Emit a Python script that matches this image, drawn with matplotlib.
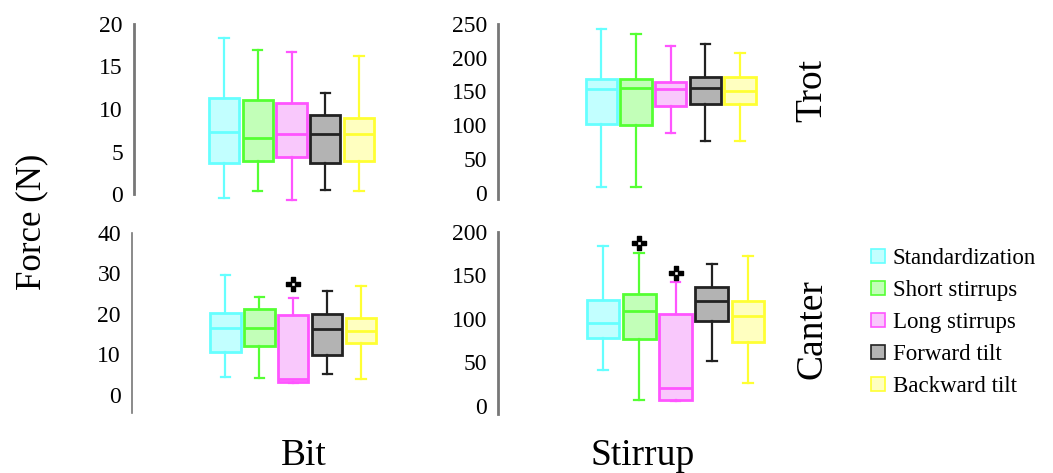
import numpy as np
import matplotlib
matplotlib.use("Agg")
import matplotlib.pyplot as plt
from matplotlib.patches import Patch

plt.rcParams['font.family'] = ['Liberation Serif', 'DejaVu Sans']

# conditions + colours
conditions = ['Standardization', 'Short stirrups', 'Long stirrups', 'Forward tilt', 'Backward tilt']
edge_cols = ['#66ffff', '#55ff33', '#ff55ff', '#222222', '#ffff33']
face_cols = ['#c2ffff', '#c2ffb8', '#f9c8fc', '#b3b3b3', '#ffffc0']

# box stats per condition: [whisker low, q1, median, q3, whisker high]
bit_trot = [[-0.5, 3.6, 7.3, 11.3, 18.4],
            [0.3, 3.85, 6.55, 11.0, 16.9],
            [-0.7, 4.3, 7.0, 10.7, 16.7],
            [0.5, 3.7, 7.1, 9.3, 11.9],
            [0.35, 3.85, 7.1, 8.9, 16.2]]
bit_trot_fliers = [[], [], [], [], []]

bit_canter = [[4.5, 10.5, 16.5, 20.25, 29.6],
              [4.25, 12.1, 16.6, 21.1, 24.25],
              [2.9, 3.2, 4.0, 19.8, 24.0],
              [5.2, 9.9, 16.3, 19.9, 25.75],
              [4.0, 12.75, 15.8, 19.1, 26.9]]
bit_canter_fliers = [[], [], [27.4], [], []]

stirrup_trot = [[8.6, 102, 154.3, 167.7, 242],
                [8.6, 100, 155, 169, 235],
                [89, 129, 152.9, 164.7, 217],
                [75.8, 131.6, 155, 171, 221],
                [76.8, 131, 150.4, 171.6, 207.7]]
stirrup_trot_fliers = [[], [], [], [], []]

stirrup_canter = [[41, 78.2, 95.8, 122, 184],
                  [6.1, 77.4, 109.2, 128.7, 175.5],
                  [6, 6.1, 21, 106, 142.5],
                  [51, 97.3, 120.7, 136.8, 163.6],
                  [25.7, 73.6, 103, 121, 172.8]]
stirrup_canter_fliers = [[], [187], [153], [], []]

bit_trot_ticks = [0, 5, 10, 15, 20]
bit_canter_ticks = [0, 10, 20, 30, 40]
stirrup_trot_ticks = [0, 50, 100, 150, 200, 250]
stirrup_canter_ticks = [0, 50, 100, 150, 200]

W, H = 1053, 473
fig = plt.figure(figsize=(W / 100, H / 100), dpi=100)


def px_axes(left, top, right, bottom):
    return fig.add_axes([left / W, 1 - bottom / H, (right - left) / W, (bottom - top) / H])


def draw_panel(ax, stats, fliers, ticks, ylim, xlim, spine_lw):
    bxp_stats = []
    for s, f in zip(stats, fliers):
        bxp_stats.append(dict(whislo=s[0], q1=s[1], med=s[2], q3=s[3], whishi=s[4], fliers=f))
    pos = np.arange(1, len(stats) + 1)
    art = ax.bxp(bxp_stats, positions=pos, widths=0.9, capwidths=0.27, patch_artist=True,
                 flierprops=dict(marker='$\u271c$', markersize=10, markerfacecolor='black',
                                 markeredgecolor='black', linestyle='none'))
    for i in range(len(stats)):
        art['boxes'][i].set_facecolor(face_cols[i])
        art['boxes'][i].set_edgecolor(edge_cols[i])
        art['boxes'][i].set_linewidth(2)
        art['medians'][i].set_color(edge_cols[i])
        art['medians'][i].set_linewidth(2)
        for k in (2 * i, 2 * i + 1):
            art['whiskers'][k].set_color(edge_cols[i])
            art['whiskers'][k].set_linewidth(1.6)
            art['caps'][k].set_color(edge_cols[i])
            art['caps'][k].set_linewidth(1.6)
    for key in art:
        for a in art[key]:
            a.set_clip_on(False)
    ax.set_xlim(*xlim)
    ax.set_ylim(*ylim)
    ax.set_yticks(ticks)
    ax.set_xticks([])
    for sp in ['top', 'right', 'bottom']:
        ax.spines[sp].set_visible(False)
    ax.spines['left'].set_color('#777777')
    ax.spines['left'].set_linewidth(spine_lw)
    ax.tick_params(axis='y', length=0, pad=8, labelsize=17)
    ax.patch.set_alpha(0)


ax1 = px_axes(134, 24, 420, 194)
draw_panel(ax1, bit_trot, bit_trot_fliers, bit_trot_ticks, (0, 20), (-1.667, 6.807), 2)
ax2 = px_axes(132, 233, 420, 413)
draw_panel(ax2, bit_canter, bit_canter_fliers, bit_canter_ticks, (-4.5, 40), (-1.755, 6.74), 1.2)
ax3 = px_axes(498, 24, 790, 199)
draw_panel(ax3, stirrup_trot, stirrup_trot_fliers, stirrup_trot_ticks, (-9.6, 250), (-1.973, 6.44), 2)
ax4 = px_axes(498, 232, 790, 414)
draw_panel(ax4, stirrup_canter, stirrup_canter_fliers, stirrup_canter_ticks, (-9.5, 200), (-1.909, 6.165), 2)

fig.text(32 / W, 1 - 222 / H, 'Force (N)', rotation=90, fontsize=25, ha='center', va='center')
fig.text(304 / W, 1 - 465 / H, 'Bit', fontsize=27, ha='center', va='baseline')
fig.text(643 / W, 1 - 465 / H, 'Stirrup', fontsize=27, ha='center', va='baseline')
fig.text(812 / W, 1 - 90 / H, 'Trot', rotation=90, fontsize=27, ha='center', va='center')
fig.text(812 / W, 1 - 329 / H, 'Canter', rotation=90, fontsize=27, ha='center', va='center')

handles = [Patch(facecolor=fc, edgecolor=ec, linewidth=1.2) for fc, ec in zip(face_cols, edge_cols)]
fig.legend(handles, conditions, loc='upper left', bbox_to_anchor=(862 / W, 1 - 239 / H),
           frameon=False, fontsize=16.5, handlelength=0.6, handleheight=0.6,
           handletextpad=0.35, labelspacing=0.48, borderaxespad=0)

fig.savefig('out.png', dpi=100)
